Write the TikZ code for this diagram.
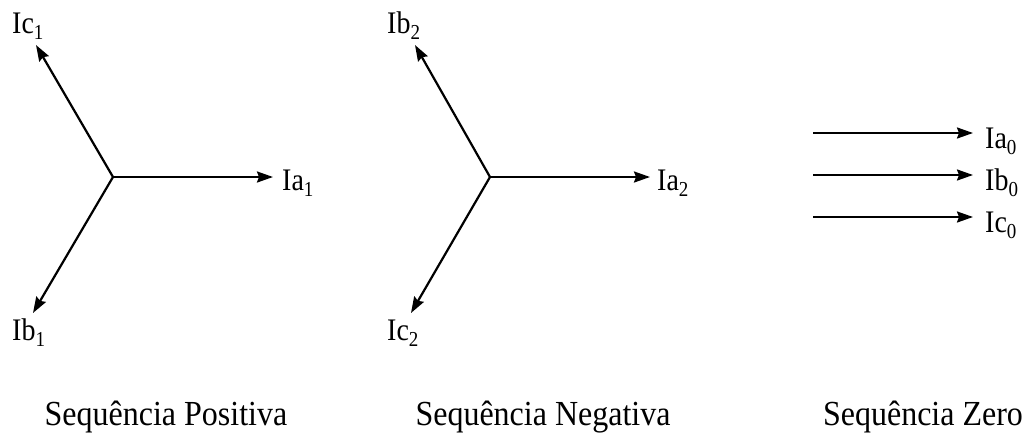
\documentclass[tikz,border=0pt]{standalone}
\usepackage{fontspec}
\setmainfont{Liberation Serif}
\usetikzlibrary{arrows.meta,positioning}

\newcommand{\phs}[2]{\scalebox{1}[1.12]{#1\raisebox{-0.2em}{\fontsize{19}{19}\selectfont #2}}}
\newcommand{\tall}[1]{\scalebox{1}[1.1]{#1}}

\begin{document}
\begin{tikzpicture}[x=1pt, y=-1pt,
  vec/.style={-{Stealth[length=16pt,width=11pt,inset=2pt]}, line width=2.2pt},
  lbl/.style={inner sep=0pt, anchor=base west, font=\fontsize{28}{28}\selectfont},
  title/.style={inner sep=0pt, anchor=base, font=\fontsize{32}{32}\selectfont}
]
\useasboundingbox (0,0) rectangle (1025,434);

% sequencia positiva
\coordinate (o1) at (113,177);
\coordinate (a1) at (273,177);
\coordinate (c1) at (36,45);
\coordinate (b1) at (33,313);
\draw[vec] (o1) -- (a1);
\draw[vec] (o1) -- (c1);
\draw[vec] (o1) -- (b1);
\node[lbl] (la1) at (282,190) {\phs{Ia}{1}};
\node[lbl] (lc1) at (12,33)   {\phs{Ic}{1}};
\node[lbl] (lb1) at (12,340)  {\phs{Ib}{1}};

% sequencia negativa
\coordinate (o2) at (490,177);
\coordinate (a2) at (650,177);
\coordinate (b2) at (415,45);
\coordinate (c2) at (411,313);
\draw[vec] (o2) -- (a2);
\draw[vec] (o2) -- (b2);
\draw[vec] (o2) -- (c2);
\node[lbl] (la2) at (657,190) {\phs{Ia}{2}};
\node[lbl] (lb2) at (387,33)  {\phs{Ib}{2}};
\node[lbl] (lc2) at (387,340) {\phs{Ic}{2}};

% sequencia zero
\foreach \y/\n in {133/a, 175/b, 217/c} {
  \coordinate (s0\n) at (813,\y);
  \coordinate (e0\n) at (973,\y);
  \draw[vec] (s0\n) -- (e0\n);
  \node[lbl] (l0\n) at (985,\y+15) {\phs{I\n}{0}};
}

\node[title] (tpos)  at (166,425) {\tall{Sequência Positiva}};
\node[title] (tneg)  at (543,425) {\tall{Sequência Negativa}};
\node[title] (tzero) at (923,425) {\tall{Sequência Zero}};
\end{tikzpicture}
\end{document}
